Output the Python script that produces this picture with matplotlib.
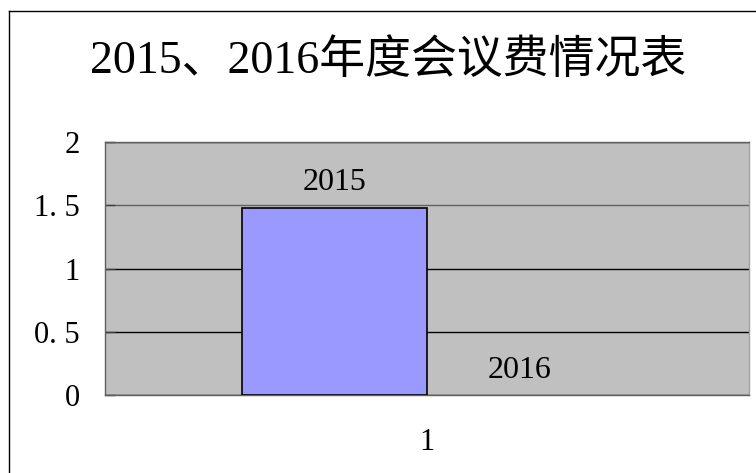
import matplotlib
matplotlib.use("Agg")
import matplotlib.pyplot as plt
from matplotlib.lines import Line2D
import numpy as np

title = "2015、2016年度会议费情况表"
categories = ["1"]
series_names = ["2015", "2016"]
values_2015 = [1.48]
values_2016 = [0.0]
y_ticks = [0, 0.5, 1, 1.5, 2]
y_tick_labels = ["0", "0. 5", "1", "1. 5", "2"]

W, H = 756, 473
fig = plt.figure(figsize=(W / 100, H / 100), dpi=100)
fig.patch.set_facecolor("white")

# outer chart frame (clipped at right/bottom like reference)
fig.add_artist(Line2D([8.5 / W, 8.5 / W], [0, 1 - 11.5 / H], transform=fig.transFigure, color="black", lw=1))
fig.add_artist(Line2D([8.5 / W, 1], [1 - 11.5 / H, 1 - 11.5 / H], transform=fig.transFigure, color="black", lw=1))

num_font = ["Liberation Serif", "Noto Sans CJK SC"]
fig.text(388 / W, 1 - 62 / H, title, ha="center", va="center", fontsize=33, family=num_font)

ax = fig.add_axes([105 / W, 1 - 395 / H, (749 - 105) / W, (395 - 142) / H])
ax.set_facecolor("#C0C0C0")

x = np.arange(len(categories))
bw = 0.287
b1 = ax.bar(x - bw / 2, values_2015, bw, color="#9999FF", edgecolor="black", linewidth=1.2, zorder=3)
b2 = ax.bar(x + bw / 2, values_2016, bw, color="#9999FF", edgecolor="none", linewidth=0, zorder=3)

for bars, name in ((b1, series_names[0]), (b2, series_names[1])):
    for r in bars:
        ax.annotate(name, (r.get_x() + r.get_width() / 2, r.get_height()), xytext=(0, 25),
                    textcoords="offset pixels", ha="center", va="center",
                    fontsize=23, family=num_font, zorder=4)

ax.set_xlim(-0.5, 0.5)
ax.set_ylim(0, 2)
ax.set_yticks(y_ticks)
ax.set_yticklabels(y_tick_labels, family=num_font, fontsize=22)
ax.set_xticks(x)
ax.set_xticklabels(categories, family=num_font, fontsize=22)
ax.tick_params(axis="y", direction="in", length=7, width=1, color="#404040", pad=18)
ax.tick_params(axis="x", length=0, pad=24)
ax.yaxis.grid(True, color="black", linewidth=1, zorder=1)
ax.set_axisbelow(True)
gl = ax.get_ygridlines()
gl[3].set_color("#606060")
for s in ax.spines.values():
    s.set_color("#606060")
    s.set_linewidth(1)
ax.spines["right"].set_color("#A0A0A0")

fig.savefig("out.png", dpi=100)
